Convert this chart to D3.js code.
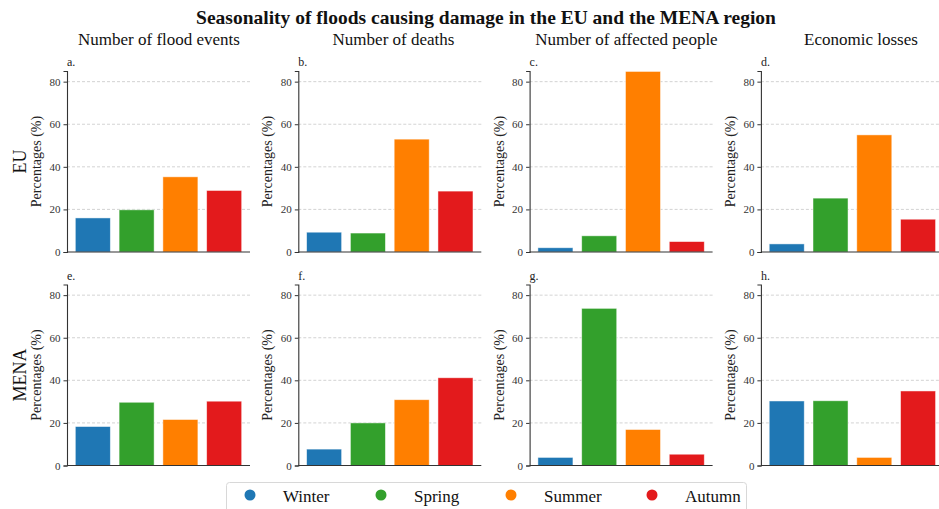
<!DOCTYPE html>
<html>
<head>
<meta charset="utf-8">
<script src="https://cdn.jsdelivr.net/npm/d3@7"></script>
<style>
  html, body { margin: 0; padding: 0; background: #fff; }
  svg { display: block; font-family: "Liberation Serif", "Times New Roman", serif; }
</style>
</head>
<body>
<svg id="chart" width="939" height="509"></svg>
<script>
// Seasonal share (%) of flood impacts, per metric and region
const seasons = ["Winter", "Spring", "Summer", "Autumn"];
const seasonColors = ["#1f77b4", "#33a02c", "#ff7f00", "#e31a1c"];
const metrics = ["Number of flood events", "Number of deaths", "Number of affected people", "Economic losses"];
const regions = ["EU", "MENA"];
const panelLetters = ["a.", "b.", "c.", "d.", "e.", "f.", "g.", "h."];
const yTicks = [0, 20, 40, 60, 80];

const euFloodEvents   = [16.0, 19.8, 35.3, 28.9];
const euDeaths        = [9.3, 8.9, 53.0, 28.6];
const euAffected      = [2.0, 7.6, 84.8, 4.9];
const euLosses        = [3.8, 25.3, 55.0, 15.4];
const menaFloodEvents = [18.3, 29.7, 21.6, 30.2];
const menaDeaths      = [7.7, 20.0, 30.9, 41.2];
const menaAffected    = [3.8, 73.8, 16.9, 5.3];
const menaLosses      = [30.3, 30.4, 3.8, 35.0];

const panelData = [
  [euFloodEvents, euDeaths, euAffected, euLosses],
  [menaFloodEvents, menaDeaths, menaAffected, menaLosses]
];

const svg = d3.select("#chart");

// panel geometry
const colX0 = 67, colStep = 231.3, panelW = 183;
const rowTop = [71, 284.5], panelH = 181;
const titleCenters = [159, 393.5, 626.5, 861];

svg.append("text")
  .attr("x", 486).attr("y", 24)
  .attr("text-anchor", "middle")
  .attr("font-weight", "bold")
  .attr("font-size", 19.5)
  .attr("fill", "#111")
  .text("Seasonality of floods causing damage in the EU and the MENA region");

metrics.forEach((m, c) => {
  svg.append("text")
    .attr("x", titleCenters[c])
    .attr("y", 44.5)
    .attr("text-anchor", "middle")
    .attr("font-size", 17)
    .attr("fill", "#111")
    .text(m);
});

regions.forEach((r, ri) => {
  const cy = rowTop[ri] + panelH / 2;
  svg.append("text")
    .attr("transform", `translate(26,${cy}) rotate(-90)`)
    .attr("text-anchor", "middle")
    .attr("font-size", 18)
    .attr("fill", "#111")
    .text(r);
});

const x = d3.scaleBand().domain(seasons).range([0, panelW]).paddingInner(0.2).paddingOuter(0.19);
const y = d3.scaleLinear().domain([0, 85]).range([panelH, 0]);

regions.forEach((r, ri) => {
  metrics.forEach((m, c) => {
    const g = svg.append("g")
      .attr("transform", `translate(${colX0 + c * colStep},${rowTop[ri]})`);

    // dashed horizontal grid
    g.selectAll("line.grid")
      .data(yTicks.filter(t => t > 0))
      .join("line")
      .attr("class", "grid")
      .attr("x1", 0).attr("x2", panelW)
      .attr("y1", d => y(d)).attr("y2", d => y(d))
      .attr("stroke", "#c8c8c8")
      .attr("stroke-width", 0.8)
      .attr("stroke-dasharray", "3,2");

    const vals = panelData[ri][c];
    g.selectAll("rect.bar")
      .data(vals)
      .join("rect")
      .attr("class", "bar")
      .attr("x", (d, i) => x(seasons[i]))
      .attr("width", x.bandwidth())
      .attr("y", d => y(d))
      .attr("height", d => y(0) - y(d))
      .attr("fill", (d, i) => seasonColors[i])
      .attr("stroke", "#ffffff")
      .attr("stroke-opacity", 0.6)
      .attr("stroke-width", 0.8);

    const yAxis = g.append("g")
      .call(d3.axisLeft(y).tickValues(yTicks).tickSize(3.5).tickPadding(3));
    yAxis.select(".domain").attr("stroke", "#333").attr("stroke-width", 1.1);
    yAxis.selectAll(".tick line").attr("stroke", "#333");
    yAxis.selectAll(".tick text")
      .attr("font-family", "Liberation Serif, serif")
      .attr("font-size", 11)
      .attr("fill", "#333");

    g.append("line")
      .attr("x1", 0).attr("x2", panelW)
      .attr("y1", y(0)).attr("y2", y(0))
      .attr("stroke", "#333").attr("stroke-width", 1.1);

    g.append("text")
      .attr("transform", `translate(-26,${panelH / 2}) rotate(-90)`)
      .attr("text-anchor", "middle")
      .attr("font-size", 14)
      .attr("fill", "#222")
      .text("Percentages (%)");

    g.append("text")
      .attr("x", 0).attr("y", -5)
      .attr("font-size", 12)
      .attr("fill", "#222")
      .text(panelLetters[ri * 4 + c]);
  });
});

// legend
const legend = svg.append("g").attr("transform", "translate(226,482)");
legend.append("rect")
  .attr("x", 0.5).attr("y", 0.5)
  .attr("width", 520).attr("height", 40)
  .attr("rx", 3)
  .attr("fill", "#fff")
  .attr("stroke", "#d8d8d8");
const legendX = [24, 155, 285, 426];
seasons.forEach((s, i) => {
  legend.append("circle")
    .attr("cx", legendX[i]).attr("cy", 13)
    .attr("r", 5.5)
    .attr("fill", seasonColors[i]);
  legend.append("text")
    .attr("x", legendX[i] + 33).attr("y", 19.5)
    .attr("font-size", 17)
    .attr("fill", "#111")
    .text(s);
});
</script>
</body>
</html>
